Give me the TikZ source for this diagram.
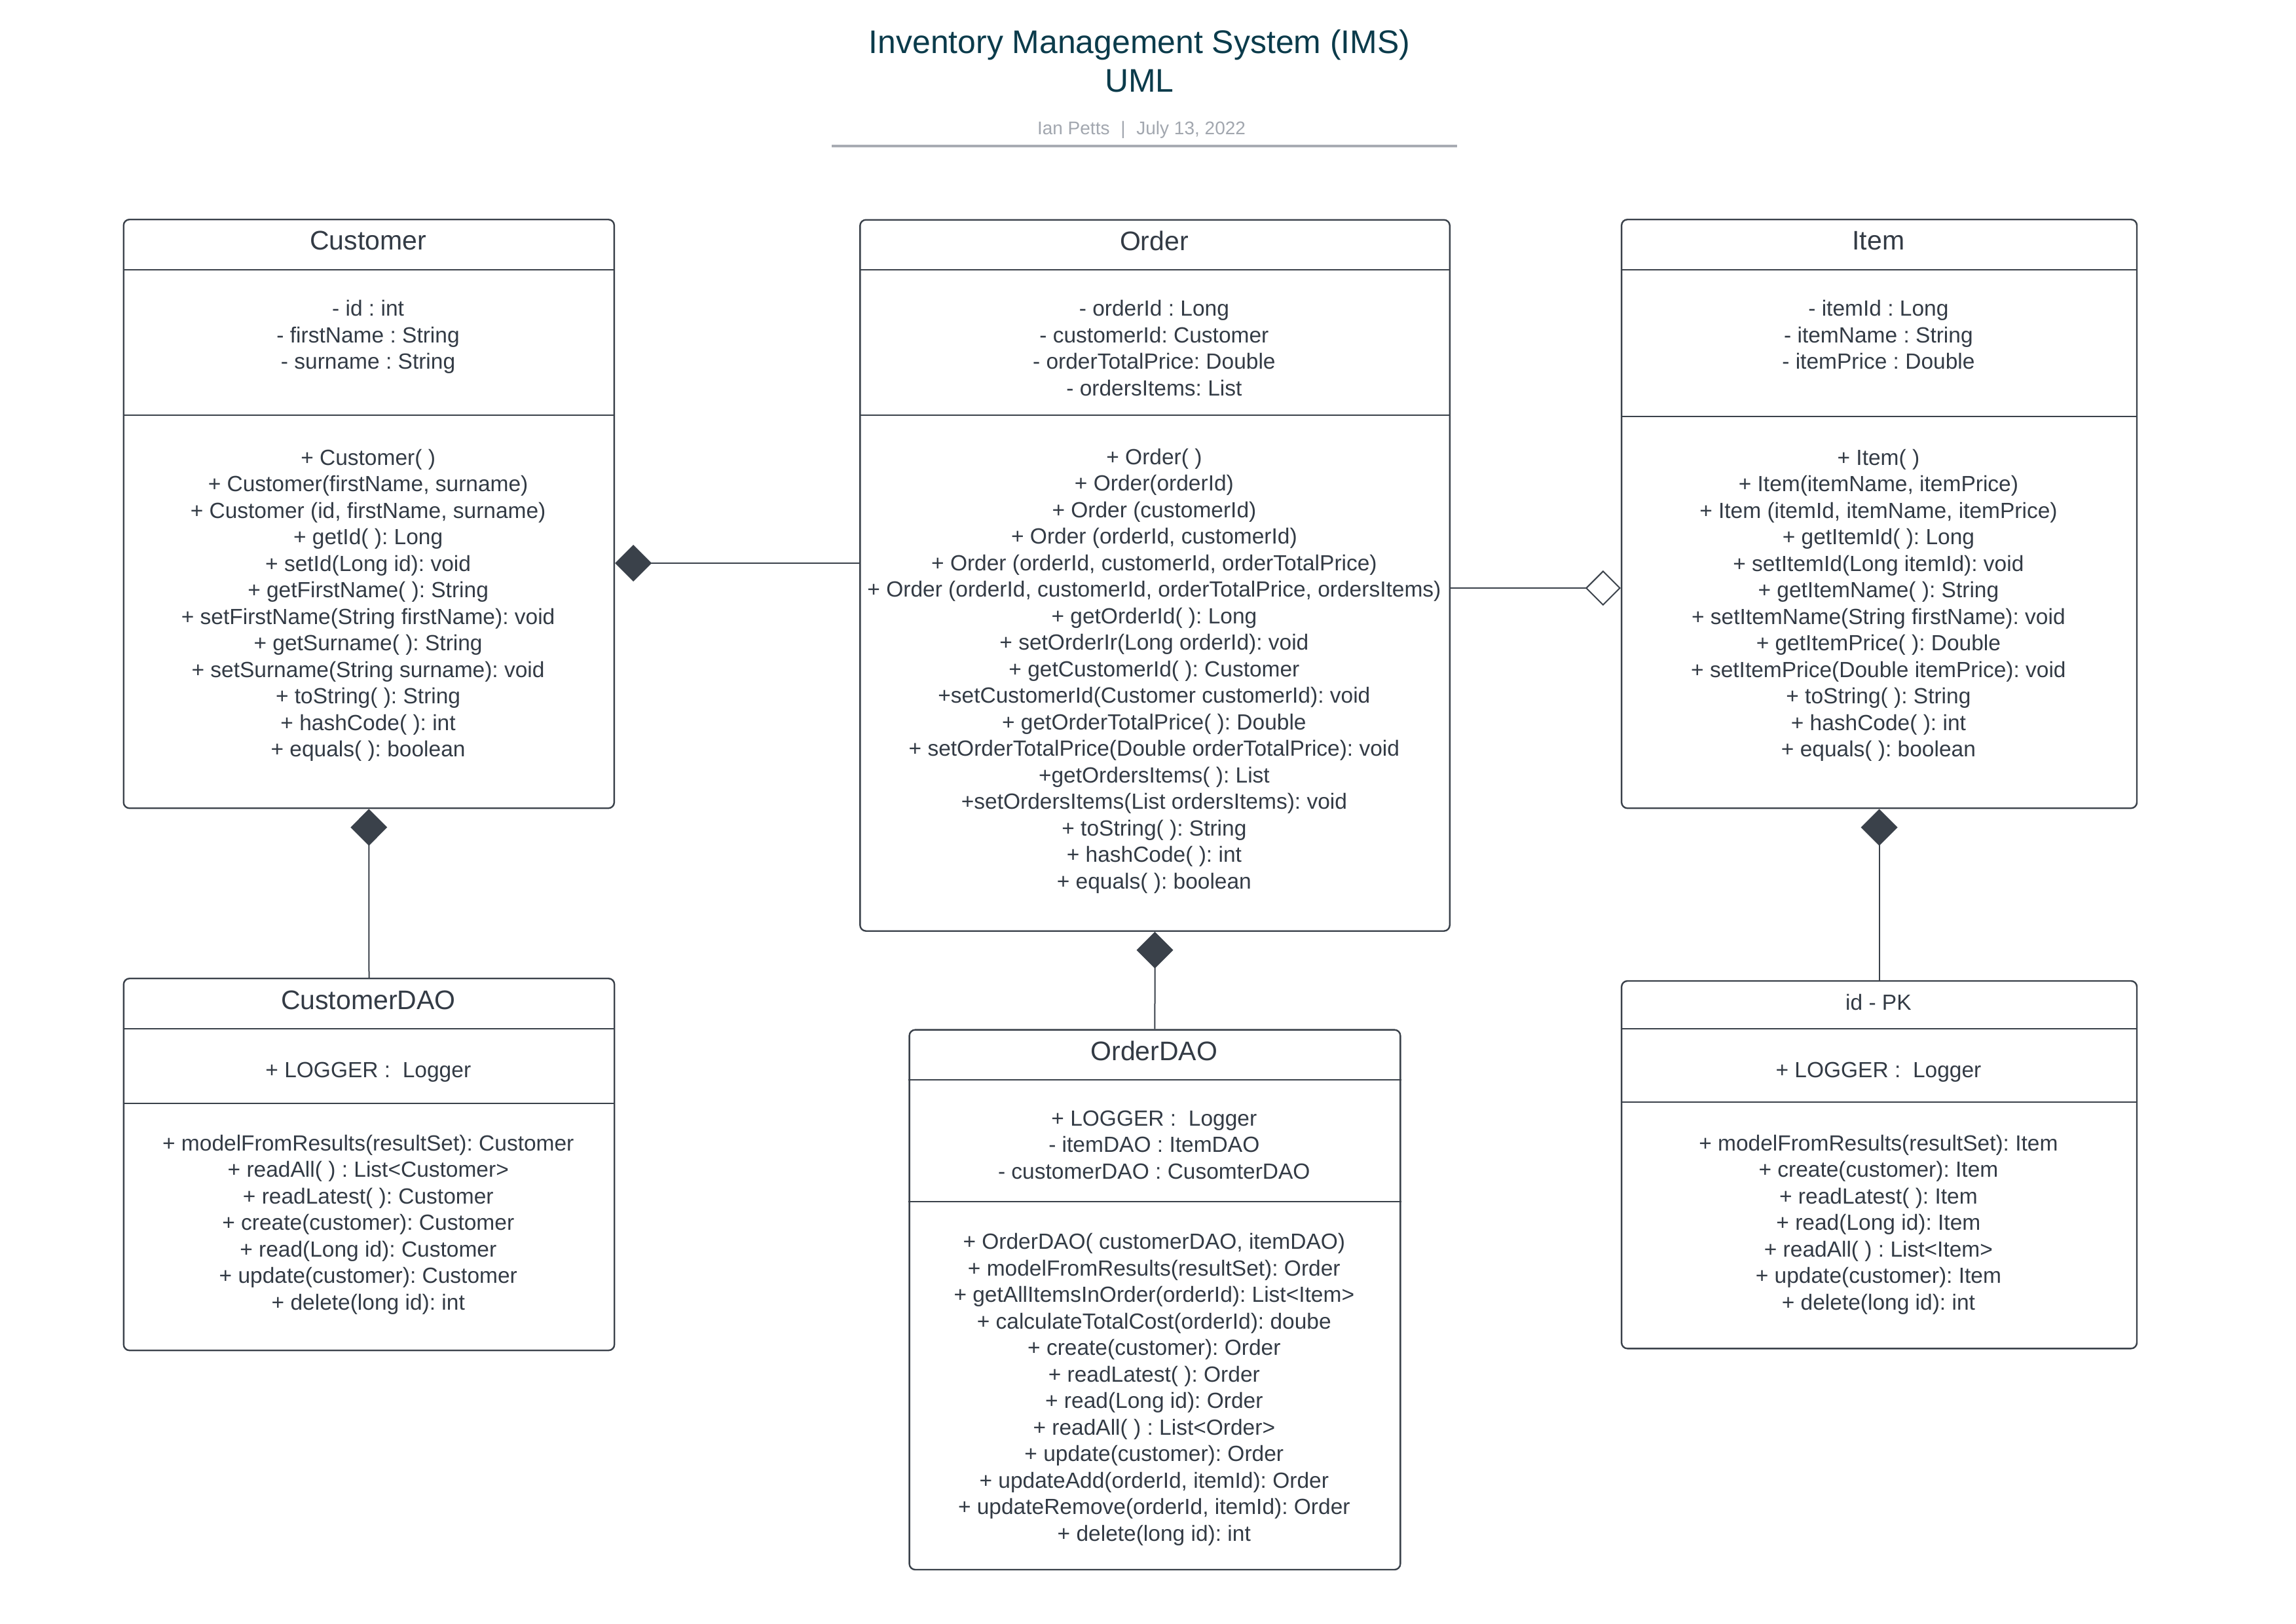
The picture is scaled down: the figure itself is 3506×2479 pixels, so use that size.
\documentclass[tikz,border=0pt]{standalone}
\usepackage{fontspec}
\setmainfont{Liberation Sans}
\usetikzlibrary{arrows.meta,calc}
\definecolor{ink}{HTML}{3A414A}
\definecolor{txt}{HTML}{333B45}
\definecolor{ttl}{HTML}{0B3B4B}
\definecolor{subc}{HTML}{A2A7AF}
\definecolor{rulc}{HTML}{A8ACB3}
\newcommand\fl{\rule{0pt}{27pt}}
\frenchspacing
\tikzset{
  classbox/.style={draw=ink, line width=2.4pt, rounded corners=9pt, anchor=north west, inner sep=0pt},
  body/.style={font=\fontsize{33.5}{40.5}\selectfont, text=txt, align=center, anchor=north, inner sep=0pt},
  head/.style={font=\fontsize{41}{49}\selectfont, text=txt, anchor=base, inner sep=0pt},
  divider/.style={draw=ink, line width=2pt},
  link/.style={draw=ink, line width=2pt},
  comp/.style={{Diamond[length=56pt,width=56pt]}-},
  aggr/.style={-{Diamond[open,length=54pt,width=54pt]}}
}
\begin{document}
\begin{tikzpicture}[x=1pt,y=-1pt]
\useasboundingbox[fill=white] (0,0) rectangle (3506,2479);

% title block
\node[anchor=base, inner sep=0pt, text=ttl, font=\fontsize{49.9}{59}\selectfont] (title) at (1740,81.7) {Inventory Management System (IMS)};
\node[anchor=base, inner sep=0pt, text=ttl, font=\fontsize{49.9}{59}\selectfont] (uml) at (1740,140.7) {UML};
\node[anchor=base, inner sep=0pt, text=subc, font=\fontsize{28}{33}\selectfont] (subt) at (1743,205) {Ian Petts\hspace{0.6em}|\hspace{0.6em}July 13, 2022};
\coordinate (rl) at (1270,222.7);
\coordinate (rr) at (2225,222.7);
\draw[rulc, line width=4pt] (rl) -- (rr);

% boxes
\node[classbox, minimum width=749.2pt, minimum height=899pt] (cust) at (187.5,334) {};
\node[classbox, minimum width=900.5pt, minimum height=1086pt] (order) at (1312.1,334.5) {};
\node[classbox, minimum width=786.9pt, minimum height=899pt] (item) at (2474.9,334) {};
\node[classbox, minimum width=749.4pt, minimum height=568pt] (custdao) at (187.6,1493) {};
\node[classbox, minimum width=749.7pt, minimum height=824.4pt] (orderdao) at (1387.4,1571.4) {};
\node[classbox, minimum width=786.9pt, minimum height=561.3pt] (idpk) at (2474.9,1496.8) {};

% dividers
\draw[divider] (cust.west |- 0,411.6) -- (cust.east |- 0,411.6);
\draw[divider] (cust.west |- 0,634.2) -- (cust.east |- 0,634.2);
\draw[divider] (order.west |- 0,412.2) -- (order.east |- 0,412.2);
\draw[divider] (order.west |- 0,634.4) -- (order.east |- 0,634.4);
\draw[divider] (item.west |- 0,411.6) -- (item.east |- 0,411.6);
\draw[divider] (item.west |- 0,635.5) -- (item.east |- 0,635.5);
\draw[divider] (custdao.west |- 0,1571.4) -- (custdao.east |- 0,1571.4);
\draw[divider] (custdao.west |- 0,1685) -- (custdao.east |- 0,1685);
\draw[divider] (orderdao.west |- 0,1649.1) -- (orderdao.east |- 0,1649.1);
\draw[divider] (orderdao.west |- 0,1834.6) -- (orderdao.east |- 0,1834.6);
\draw[divider] (idpk.west |- 0,1571.4) -- (idpk.east |- 0,1571.4);
\draw[divider] (idpk.west |- 0,1682.7) -- (idpk.east |- 0,1682.7);

% Customer
\node[head] (custT) at (562.1,381.7) {Customer};
\node[body] (custA) at (562.1,455.4) {\fl- id : int\\- firstName : String\\- surname : String};
\node[body] (custM) at (562.1,683.1) {\fl+ Customer( )\\+ Customer(firstName, surname)\\+ Customer (id, firstName, surname)\\+ getId( ): Long\\+ setId(Long id): void\\+ getFirstName( ): String\\+ setFirstName(String firstName): void\\+ getSurname( ): String\\+ setSurname(String surname): void\\+ toString( ): String\\+ hashCode( ): int\\+ equals( ): boolean};

% Order
\node[head] (orderT) at (1762.4,382.2) {Order};
\node[body] (orderA) at (1762.4,455.4) {\fl- orderId : Long\\- customerId: Customer\\- orderTotalPrice: Double\\- ordersItems: List};
\node[body] (orderM) at (1762.4,682) {\fl+ Order( )\\+ Order(orderId)\\+ Order (customerId)\\+ Order (orderId, customerId)\\+ Order (orderId, customerId, orderTotalPrice)\\+ Order (orderId, customerId, orderTotalPrice, ordersItems)\\+ getOrderId( ): Long\\+ setOrderIr(Long orderId): void\\+ getCustomerId( ): Customer\\+setCustomerId(Customer customerId): void\\+ getOrderTotalPrice( ): Double\\+ setOrderTotalPrice(Double orderTotalPrice): void\\+getOrdersItems( ): List\\+setOrdersItems(List ordersItems): void\\+ toString( ): String\\+ hashCode( ): int\\+ equals( ): boolean};

% Item
\node[head] (itemT) at (2868.4,381.7) {Item};
\node[body] (itemA) at (2868.4,455.5) {\fl- itemId : Long\\- itemName : String\\- itemPrice : Double};
\node[body] (itemM) at (2868.4,683.1) {\fl+ Item( )\\+ Item(itemName, itemPrice)\\+ Item (itemId, itemName, itemPrice)\\+ getItemId( ): Long\\+ setItemId(Long itemId): void\\+ getItemName( ): String\\+ setItemName(String firstName): void\\+ getItemPrice( ): Double\\+ setItemPrice(Double itemPrice): void\\+ toString( ): String\\+ hashCode( ): int\\+ equals( ): boolean};

% CustomerDAO
\node[head] (custdaoT) at (562.3,1541.9) {CustomerDAO};
\node[body] (custdaoA) at (562.3,1617.9) {\fl+ LOGGER :\ \ Logger};
\node[body] (custdaoM) at (562.3,1729.8) {\fl+ modelFromResults(resultSet): Customer\\+ readAll( ) : List<Customer>\\+ readLatest( ): Customer\\+ create(customer): Customer\\+ read(Long id): Customer\\+ update(customer): Customer\\+ delete(long id): int};

% OrderDAO
\node[head] (orderdaoT) at (1762.3,1619.6) {OrderDAO};
\node[body] (orderdaoA) at (1762.3,1691.9) {\fl+ LOGGER :\ \ Logger\\- itemDAO : ItemDAO\\- customerDAO : CusomterDAO};
\node[body] (orderdaoM) at (1762.3,1880.7) {\fl+ OrderDAO( customerDAO, itemDAO)\\+ modelFromResults(resultSet): Order\\+ getAllItemsInOrder(orderId): List<Item>\\+ calculateTotalCost(orderId): doube\\+ create(customer): Order\\+ readLatest( ): Order\\+ read(Long id): Order\\+ readAll( ) : List<Order>\\+ update(customer): Order\\+ updateAdd(orderId, itemId): Order\\+ updateRemove(orderId, itemId): Order\\+ delete(long id): int};

% id - PK
\node[body, anchor=base] (idpkT) at (2868.4,1542) {id - PK};
\node[body] (idpkA) at (2868.4,1617.9) {\fl+ LOGGER :\ \ Logger};
\node[body] (idpkM) at (2868.4,1729.8) {\fl+ modelFromResults(resultSet): Item\\+ create(customer): Item\\+ readLatest( ): Item\\+ read(Long id): Item\\+ readAll( ) : List<Item>\\+ update(customer): Item\\+ delete(long id): int};

% connectors
\draw[link, comp] (cust.east |- 0,860) -- (order.west |- 0,860);
\draw[link, aggr] (order.east |- 0,898) -- (item.west |- 0,898);
\draw[link, comp] (cust.south) -- (custdao.north);
\draw[link, comp] (order.south) -- (orderdao.north);
\draw[link, comp] (item.south) -- (idpk.north);
\end{tikzpicture}
\end{document}
